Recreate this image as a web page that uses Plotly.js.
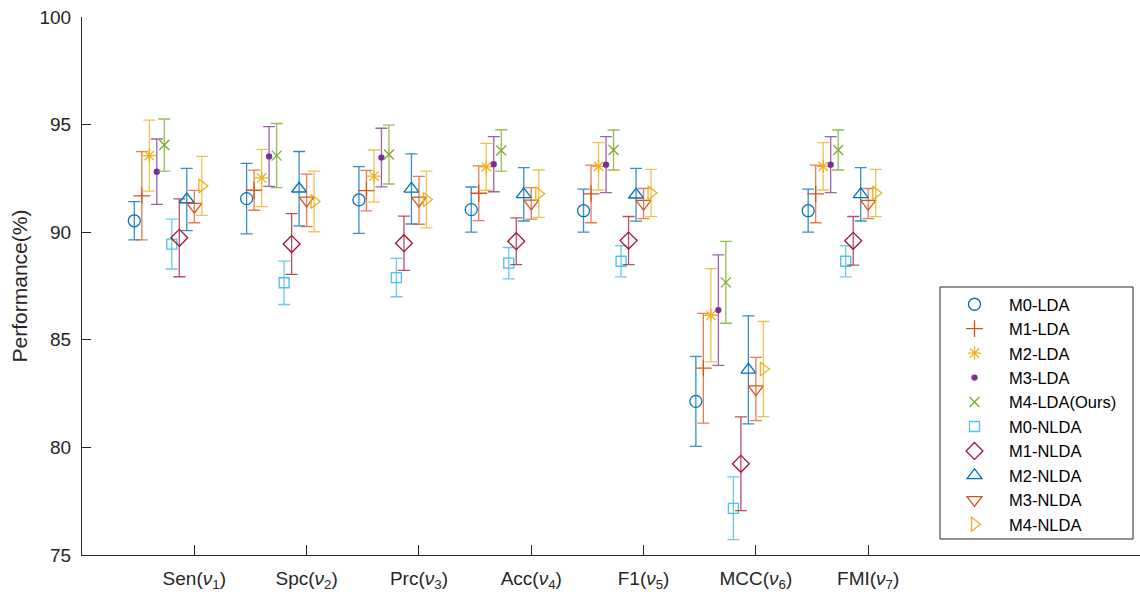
<!DOCTYPE html>
<html><head><meta charset="utf-8">
<script src="https://cdn.plot.ly/plotly-3.0.1.min.js"></script>
<style>body{margin:0;background:#fff}#chart{width:1140px;height:594px}</style>
</head><body><div id="chart"></div>
<script>
const categories = ["Sen", "Spc", "Prc", "Acc", "F1", "MCC", "FMI"];
const tickLabels = ["Sen(<i>ν</i><sub>1</sub>)", "Spc(<i>ν</i><sub>2</sub>)", "Prc(<i>ν</i><sub>3</sub>)",
  "Acc(<i>ν</i><sub>4</sub>)", "F1(<i>ν</i><sub>5</sub>)", "MCC(<i>ν</i><sub>6</sub>)", "FMI(<i>ν</i><sub>7</sub>)"];
const yTicks = [75, 80, 85, 90, 95, 100];
const seriesNames = ["M0-LDA", "M1-LDA", "M2-LDA", "M3-LDA", "M4-LDA(Ours)",
  "M0-NLDA", "M1-NLDA", "M2-NLDA", "M3-NLDA", "M4-NLDA"];

// mean values per series, order: Sen, Spc, Prc, Acc, F1, MCC, FMI
const m0_lda_mean  = [90.53, 91.56, 91.50, 91.05, 91.00, 82.14, 91.00];
const m1_lda_mean  = [91.69, 91.95, 91.93, 91.81, 91.78, 83.68, 91.78];
const m2_lda_mean  = [93.56, 92.52, 92.61, 93.04, 93.06, 86.14, 93.06];
const m3_lda_mean  = [92.81, 93.52, 93.47, 93.16, 93.14, 86.38, 93.14];
const m4_lda_mean  = [94.05, 93.56, 93.61, 93.80, 93.82, 87.67, 93.82];
const m0_nlda_mean = [89.45, 87.65, 87.89, 88.56, 88.65, 77.17, 88.65];
const m1_nlda_mean = [89.74, 89.45, 89.49, 89.58, 89.61, 79.24, 89.60];
const m2_nlda_mean = [91.52, 92.02, 92.01, 91.76, 91.74, 83.60, 91.76];
const m3_nlda_mean = [91.19, 91.48, 91.48, 91.34, 91.33, 82.71, 91.33];
const m4_nlda_mean = [92.15, 91.43, 91.52, 91.79, 91.82, 83.64, 91.82];

// error (half-length of bar)
const m0_lda_err  = [0.89, 1.64, 1.55, 1.05, 1.00, 2.09, 1.00];
const m1_lda_err  = [2.05, 0.93, 0.94, 1.27, 1.34, 2.55, 1.34];
const m2_lda_err  = [1.65, 1.33, 1.21, 1.09, 1.10, 2.17, 1.10];
const m3_lda_err  = [1.52, 1.39, 1.36, 1.28, 1.30, 2.57, 1.30];
const m4_lda_err  = [1.21, 1.49, 1.37, 0.96, 0.93, 1.90, 0.93];
const m0_nlda_err = [1.16, 1.01, 0.89, 0.73, 0.73, 1.46, 0.73];
const m1_nlda_err = [1.81, 1.41, 1.26, 1.09, 1.12, 2.18, 1.13];
const m2_nlda_err = [1.45, 1.73, 1.63, 1.24, 1.23, 2.51, 1.24];
const m3_nlda_err = [0.75, 1.22, 1.11, 0.73, 0.70, 1.47, 0.70];
const m4_nlda_err = [1.37, 1.41, 1.32, 1.10, 1.10, 2.21, 1.10];

const means = [m0_lda_mean, m1_lda_mean, m2_lda_mean, m3_lda_mean, m4_lda_mean,
  m0_nlda_mean, m1_nlda_mean, m2_nlda_mean, m3_nlda_mean, m4_nlda_mean];
const errs = [m0_lda_err, m1_lda_err, m2_lda_err, m3_lda_err, m4_lda_err,
  m0_nlda_err, m1_nlda_err, m2_nlda_err, m3_nlda_err, m4_nlda_err];

const colors = ["#0072BD", "#D95319", "#EDB120", "#7E2F8E", "#77AC30",
  "#4DBEEE", "#A2142F", "#0072BD", "#D95319", "#EDB120"];
const barColors = ["rgba(0,114,189,0.8)", "rgba(217,83,25,0.75)", "rgba(237,177,32,0.8)", "rgba(126,47,142,0.75)",
  "rgba(119,172,48,0.8)", "rgba(77,190,238,0.85)", "rgba(162,20,47,0.75)", "rgba(0,114,189,0.8)",
  "rgba(217,83,25,0.75)", "rgba(237,177,32,0.8)"];
const symbols = ["circle-open", "cross-thin-open", "asterisk-open", "circle", "x-thin-open",
  "square-open", "diamond-open", "triangle-up-open", "triangle-down-open", "triangle-right-open"];
const sizes = [12, 12, 11, 5, 10, 10, 13, 13, 13, 12];

const step = 0.0668;
const traces = seriesNames.map((name, i) => ({
  type: "scatter", mode: "markers", name: name,
  x: categories.map((c, k) => k + 1 + (i - 8) * step),
  y: means[i],
  error_y: {type: "data", array: errs[i], visible: true, color: barColors[i], thickness: 1.3, width: 6},
  marker: {symbol: symbols[i], size: sizes[i], color: colors[i], line: {color: colors[i], width: 1.3}},
  cliponaxis: false
}));

const axisColor = "#262626";
const L = 82, R = 1140, T = 17, B = 555;
const px2x = p => (p - L) / (R - L);
const px2y = p => (B - p) / (B - T);
const layout = {
  width: 1140, height: 594,
  margin: {l: L, r: 1140 - R, t: T, b: 594 - B},
  paper_bgcolor: "#fff", plot_bgcolor: "#fff",
  font: {family: "Liberation Sans, Arial, sans-serif", size: 17, color: axisColor},
  showlegend: true,
  xaxis: {
    range: [0, 9.42], tickmode: "array", tickvals: [1, 2, 3, 4, 5, 6, 7], ticktext: tickLabels,
    showgrid: false, zeroline: false, showline: true, linecolor: axisColor, linewidth: 1,
    ticks: "inside", ticklen: 10, tickcolor: axisColor, tickfont: {size: 19, color: axisColor},
    ticklabelstandoff: 6
  },
  yaxis: {
    range: [75, 100], tickmode: "array", tickvals: yTicks, ticktext: yTicks.map(String),
    showgrid: false, zeroline: false, showline: true, linecolor: axisColor, linewidth: 1,
    ticks: "inside", ticklen: 9, tickcolor: axisColor, tickfont: {size: 19, color: axisColor},
    ticklabelstandoff: 6,
    title: {text: "Performance(%)", font: {size: 21, color: axisColor}, standoff: 6}
  },
  legend: {
    x: px2x(940), y: px2y(287), xanchor: "left", yanchor: "top",
    bgcolor: "rgba(0,0,0,0)", borderwidth: 0,
    font: {size: 16.5, color: "#000"}, itemwidth: 59, tracegroupgap: 0
  },
  shapes: [{
    type: "rect", xref: "paper", yref: "paper", layer: "above",
    x0: px2x(940), x1: px2x(1133), y0: px2y(539), y1: px2y(287),
    line: {color: axisColor, width: 1}, fillcolor: "rgba(0,0,0,0)"
  }]
};
Plotly.newPlot("chart", traces, layout, {displayModeBar: false, staticPlot: true});
</script></body></html>
